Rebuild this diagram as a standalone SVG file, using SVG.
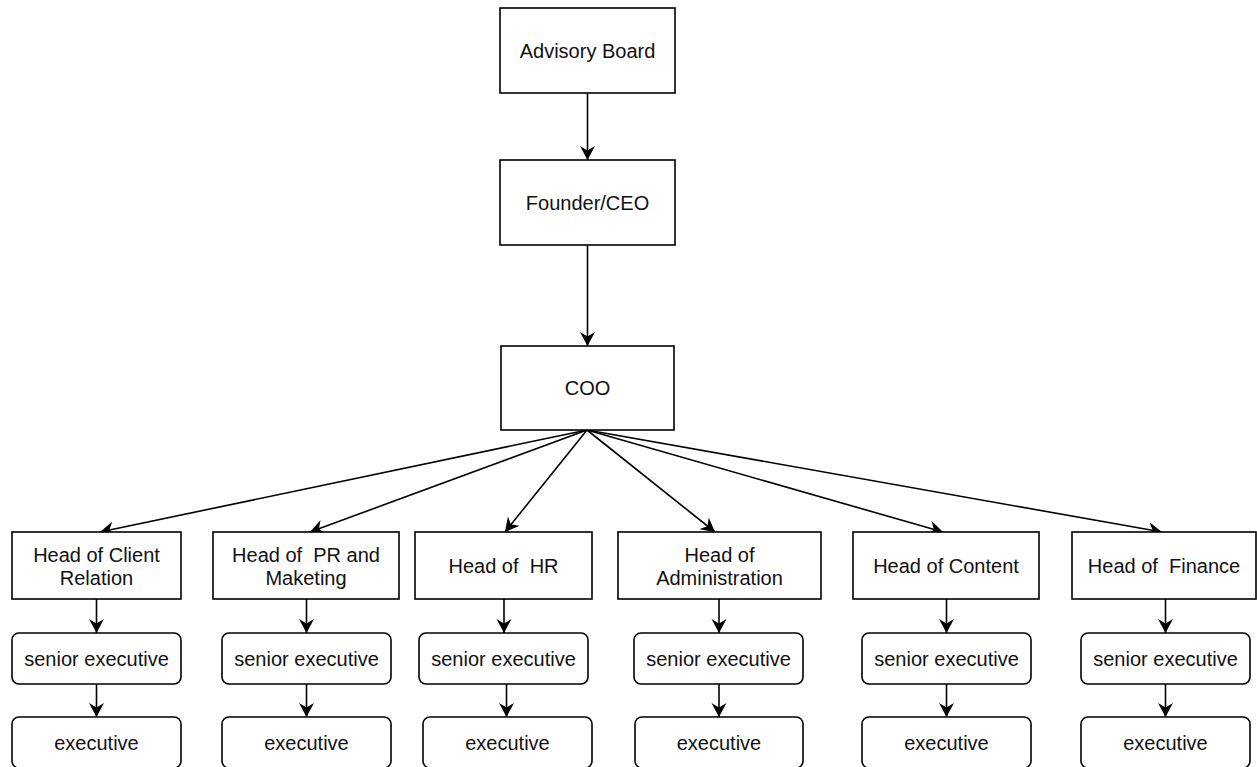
<svg xmlns="http://www.w3.org/2000/svg" width="1257" height="767" viewBox="0 0 1257 767">
<style>
.box{fill:#fff;stroke:#000;stroke-width:1.6}
.t{font-family:"Liberation Sans",Arial,sans-serif;font-size:20px;fill:#111;text-anchor:middle}
.c{fill:none;stroke:#000;stroke-width:1.6}
</style>
<defs>
<marker id="arr" markerUnits="userSpaceOnUse" markerWidth="16" markerHeight="16" viewBox="0 0 16 16" refX="14" refY="8" orient="auto">
<path d="M0,0.5 L14,8 L0,15.5 L4.5,8 Z" fill="#000"/>
</marker>
</defs>
<rect width="1257" height="767" fill="#fff"/>
<g id="connectors">
<line class="c" x1="587.5" y1="93" x2="587.5" y2="160" marker-end="url(#arr)"/>
<line class="c" x1="587.5" y1="245" x2="587.5" y2="346" marker-end="url(#arr)"/>
<line class="c" x1="587" y1="430" x2="100" y2="532" marker-end="url(#arr)"/>
<line class="c" x1="587" y1="430" x2="310" y2="532" marker-end="url(#arr)"/>
<line class="c" x1="587" y1="430" x2="505" y2="532" marker-end="url(#arr)"/>
<line class="c" x1="587" y1="430" x2="715" y2="532" marker-end="url(#arr)"/>
<line class="c" x1="587" y1="430" x2="943" y2="532" marker-end="url(#arr)"/>
<line class="c" x1="587" y1="430" x2="1162" y2="532" marker-end="url(#arr)"/>
<line class="c" x1="96.5" y1="599" x2="96.5" y2="633" marker-end="url(#arr)"/>
<line class="c" x1="96.5" y1="684" x2="96.5" y2="717" marker-end="url(#arr)"/>
<line class="c" x1="306.5" y1="599" x2="306.5" y2="633" marker-end="url(#arr)"/>
<line class="c" x1="306.5" y1="684" x2="306.5" y2="717" marker-end="url(#arr)"/>
<line class="c" x1="504" y1="599" x2="504" y2="633" marker-end="url(#arr)"/>
<line class="c" x1="506.5" y1="684" x2="506.5" y2="717" marker-end="url(#arr)"/>
<line class="c" x1="719" y1="599" x2="719" y2="633" marker-end="url(#arr)"/>
<line class="c" x1="719" y1="684" x2="719" y2="717" marker-end="url(#arr)"/>
<line class="c" x1="946.5" y1="599" x2="946.5" y2="633" marker-end="url(#arr)"/>
<line class="c" x1="946.5" y1="684" x2="946.5" y2="717" marker-end="url(#arr)"/>
<line class="c" x1="1165.5" y1="599" x2="1165.5" y2="633" marker-end="url(#arr)"/>
<line class="c" x1="1165.5" y1="684" x2="1165.5" y2="717" marker-end="url(#arr)"/>
</g>
<g id="advisory"><rect class="box" x="500" y="8" width="175" height="85"/><text class="t" x="587.5" y="58">Advisory Board</text></g>
<g id="ceo"><rect class="box" x="500" y="160" width="175" height="85"/><text class="t" x="587.5" y="210">Founder/CEO</text></g>
<g id="coo"><rect class="box" x="501" y="346" width="173" height="84"/><text class="t" x="587.5" y="395">COO</text></g>

<g id="head-client"><rect class="box" x="12" y="532" width="169" height="67"/><text class="t" x="96.5" y="562">Head of Client</text><text class="t" x="96.5" y="585">Relation</text></g>
<g id="head-pr"><rect class="box" x="213" y="532" width="186" height="67"/><text class="t" x="306" y="562" xml:space="preserve">Head of  PR and</text><text class="t" x="306" y="585">Maketing</text></g>
<g id="head-hr"><rect class="box" x="415" y="532" width="177" height="67"/><text class="t" x="503.5" y="573" xml:space="preserve">Head of  HR</text></g>
<g id="head-admin"><rect class="box" x="618" y="532" width="203" height="67"/><text class="t" x="719.5" y="562">Head of</text><text class="t" x="719.5" y="585">Administration</text></g>
<g id="head-content"><rect class="box" x="853" y="532" width="186" height="67"/><text class="t" x="946" y="573">Head of Content</text></g>
<g id="head-finance"><rect class="box" x="1072" y="532" width="184" height="67"/><text class="t" x="1164" y="573" xml:space="preserve">Head of  Finance</text></g>

<g id="senior-1"><rect class="box" x="12" y="633" width="169" height="51" rx="7"/><text class="t" x="96.5" y="666">senior executive</text></g>
<g id="senior-2"><rect class="box" x="222" y="633" width="169" height="51" rx="7"/><text class="t" x="306.5" y="666">senior executive</text></g>
<g id="senior-3"><rect class="box" x="419" y="633" width="169" height="51" rx="7"/><text class="t" x="503.5" y="666">senior executive</text></g>
<g id="senior-4"><rect class="box" x="634" y="633" width="169" height="51" rx="7"/><text class="t" x="718.5" y="666">senior executive</text></g>
<g id="senior-5"><rect class="box" x="862" y="633" width="169" height="51" rx="7"/><text class="t" x="946.5" y="666">senior executive</text></g>
<g id="senior-6"><rect class="box" x="1081" y="633" width="169" height="51" rx="7"/><text class="t" x="1165.5" y="666">senior executive</text></g>

<g id="exec-1"><rect class="box" x="12" y="717" width="169" height="51" rx="7"/><text class="t" x="96.5" y="750">executive</text></g>
<g id="exec-2"><rect class="box" x="222" y="717" width="169" height="51" rx="7"/><text class="t" x="306.5" y="750">executive</text></g>
<g id="exec-3"><rect class="box" x="423" y="717" width="169" height="51" rx="7"/><text class="t" x="507.5" y="750">executive</text></g>
<g id="exec-4"><rect class="box" x="635" y="717" width="168" height="51" rx="7"/><text class="t" x="719" y="750">executive</text></g>
<g id="exec-5"><rect class="box" x="862" y="717" width="169" height="51" rx="7"/><text class="t" x="946.5" y="750">executive</text></g>
<g id="exec-6"><rect class="box" x="1081" y="717" width="169" height="51" rx="7"/><text class="t" x="1165.5" y="750">executive</text></g>
</svg>
